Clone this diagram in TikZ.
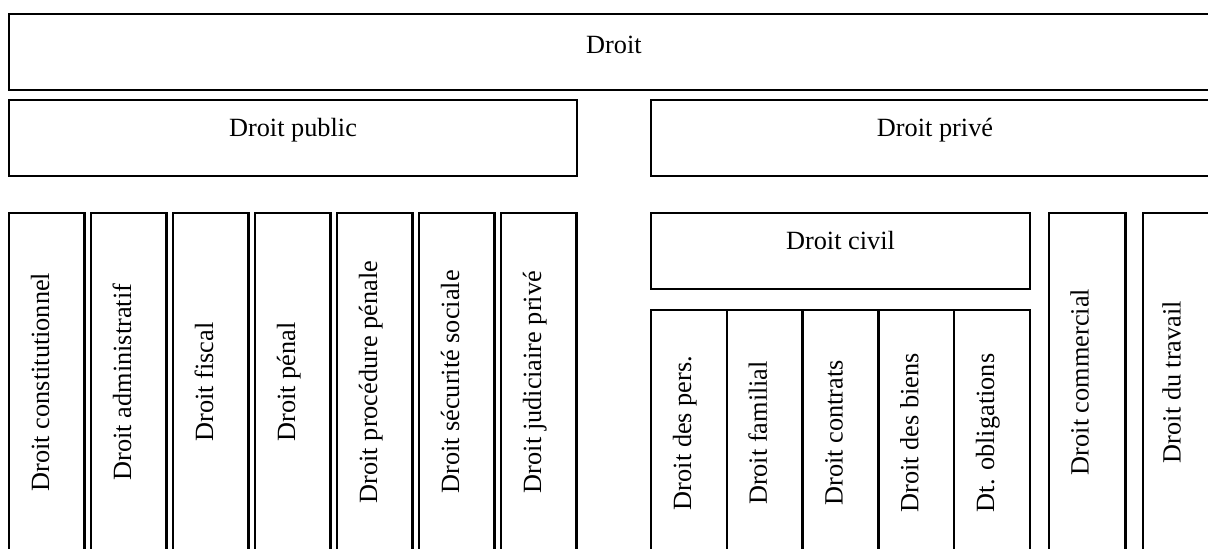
\documentclass[tikz,border=0pt]{standalone}
\usepackage{fontspec}
\setmainfont{Liberation Serif}
\usetikzlibrary{calc}
\tikzset{
  box/.style={draw=black, line width=2.4pt, rectangle, inner sep=0pt, outer sep=0pt, anchor=north west, fill=none},
  lbl/.style={font=\fontsize{26.3}{30}\selectfont, inner sep=0pt, anchor=base},
  rlbl/.style={lbl, rotate=90},
}
\begin{document}
\begin{tikzpicture}[x=1pt,y=-1pt]
\clip (0,0) rectangle (1208,549);
\fill[white] (0,0) rectangle (1208,549);
% top levels
\node[box, minimum width=1210pt, minimum height=76pt] (droit) at (9,14) {};
\node[box, minimum width=568pt, minimum height=76pt] (public) at (9,100) {};
\node[box, minimum width=568pt, minimum height=76pt] (prive) at (651,100) {};
\node[lbl] (tdroit) at ($(droit.north)+(0,39)$) {Droit};
\node[lbl] (tpublic) at ($(public.north)+(0,36)$) {Droit public};
\node[lbl] (tprive) at ($(prive.north)+(0,36)$) {Droit privé};
% public columns
\foreach \i/\t in {0/Droit constitutionnel,1/Droit administratif,2/Droit fiscal,3/Droit pénal,4/Droit procédure pénale,5/Droit sécurité sociale,6/Droit judiciaire privé}{
  \node[box, minimum width=75.5pt, minimum height=350pt] (p\i) at (9+82*\i,213) {};
  \node[rlbl] (tp\i) at ($(p\i.north west)+(40,169)$) {\t};
}
% civil
\node[box, minimum width=379pt, minimum height=76pt] (civil) at (651,213) {};
\node[lbl] (tcivil) at ($(civil.north)+(0,36.5)$) {Droit civil};
\foreach \i/\t in {0/Droit des pers.,1/Droit familial,2/Droit contrats,3/Droit des biens,4/Dt. obligations}{
  \node[box, minimum width=75.8pt, minimum height=260pt] (c\i) at (651+75.8*\i,310) {};
  \node[rlbl] (tc\i) at ($(c\i.north west)+(40,123)$) {\t};
}
% commercial and travail
\node[box, minimum width=76.5pt, minimum height=350pt] (comm) at (1049,213) {};
\node[rlbl] (tcomm) at ($(comm.north west)+(39.5,169)$) {Droit commercial};
\node[box, minimum width=76pt, minimum height=350pt] (trav) at (1143,213) {};
\node[rlbl] (ttrav) at ($(trav.north west)+(37.5,169)$) {Droit du travail};
\end{tikzpicture}
\end{document}
